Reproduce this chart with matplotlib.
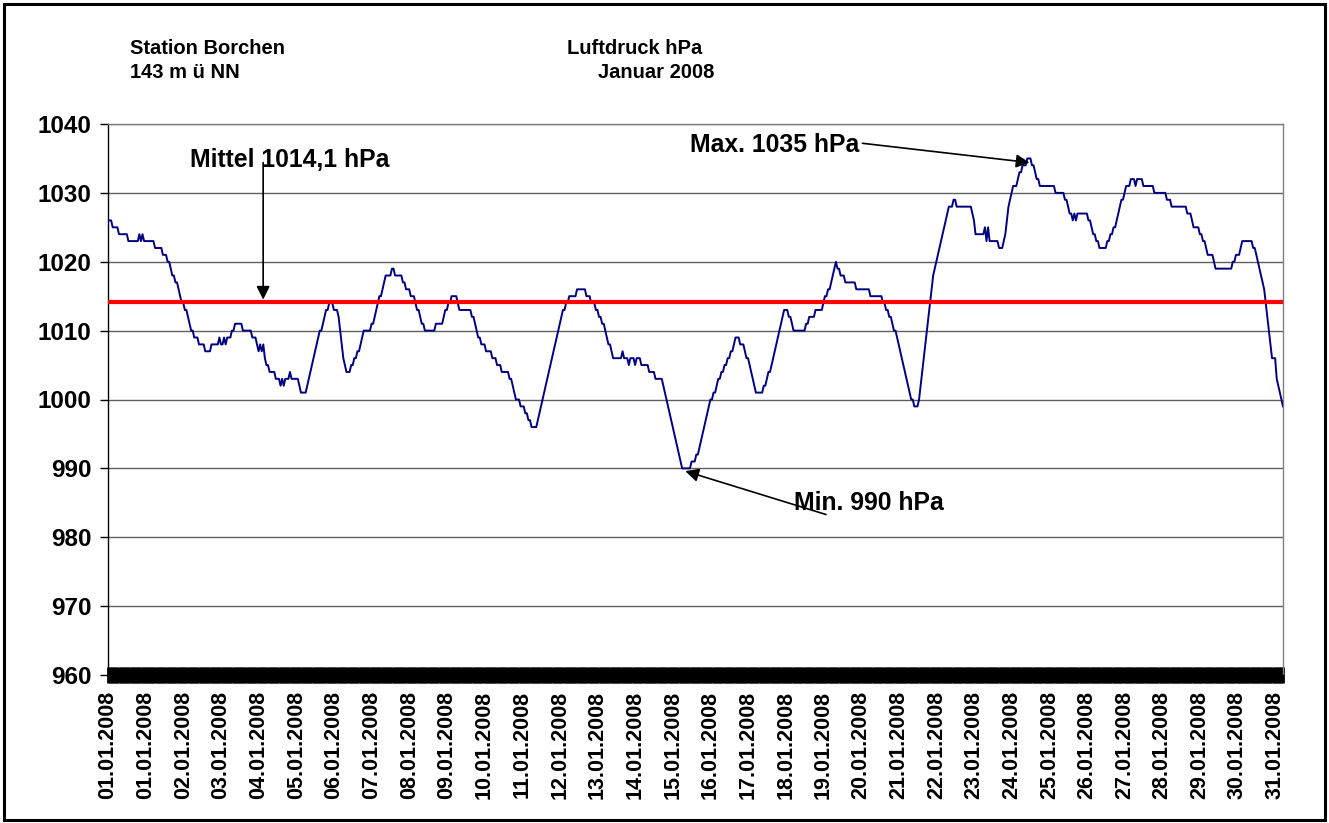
import numpy as np
import matplotlib
matplotlib.use("Agg")
import matplotlib.pyplot as plt
from matplotlib.patches import Rectangle
from matplotlib.ticker import FixedLocator

# ---- data (hourly air pressure, hPa) ----
# hour index at which the reading changes, and the new reading
change_hour = [0, 3, 7, 13, 20, 21, 22, 23, 30, 35, 38, 40, 41, 43, 45, 46, 47, 49, 51, 52,
               53, 55, 58, 62, 66, 71, 72, 74, 75, 76, 79, 81, 86, 92, 95, 96, 97, 98, 99, 100,
               101, 103, 107, 110, 111, 112, 113, 116, 117, 122, 123, 127, 128, 129, 130, 131, 132, 133, 134, 135,
               137, 138, 139, 141, 144, 147, 148, 149, 150, 151, 152, 155, 157, 159, 161, 162, 163, 168, 170, 171,
               172, 173, 175, 176, 177, 181, 183, 188, 190, 193, 196, 197, 199, 200, 202, 209, 214, 215, 217, 219,
               223, 224, 232, 234, 235, 236, 238, 241, 245, 248, 251, 256, 258, 259, 260, 263, 266, 268, 270, 274,
               275, 276, 277, 278, 279, 280, 281, 282, 283, 284, 285, 286, 287, 288, 289, 290, 292, 294, 299, 305,
               308, 311, 313, 315, 317, 318, 319, 321, 322, 328, 329, 332, 333, 336, 337, 340, 345, 349, 354, 355,
               356, 357, 358, 359, 360, 361, 362, 363, 364, 365, 366, 372, 375, 377, 378, 379, 380, 381, 382, 383,
               384, 386, 388, 389, 391, 393, 395, 397, 399, 400, 403, 406, 407, 409, 410, 411, 412, 413, 418, 420,
               421, 423, 424, 425, 426, 427, 428, 429, 430, 431, 434, 436, 437, 445, 447, 451, 456, 457, 459, 461,
               462, 463, 464, 465, 467, 470, 477, 486, 494, 496, 498, 500, 501, 503, 504, 505, 506, 507, 508, 509,
               510, 511, 512, 514, 517, 518, 519, 520, 521, 522, 523, 524, 525, 526, 527, 528, 529, 530, 531, 532,
               533, 534, 535, 536, 539, 541, 551, 552, 553, 559, 560, 561, 562, 568, 571, 572, 573, 574, 575, 576,
               577, 580, 581, 583, 586, 589, 591, 592, 594, 604, 610, 612, 613, 615, 616, 617, 618, 625, 627, 628,
               630, 632, 637, 639, 641, 643, 644, 645, 646, 648, 649, 652, 655, 656, 660, 667, 675, 678, 688, 691,
               692, 696, 698, 700, 701, 705, 706, 717, 719, 722, 723, 730, 732, 733, 734, 735, 736, 737, 738, 739,
               740, 741, 742, 745, 746, 747, 748, 749]
pressure_level = [1026, 1025, 1024, 1023, 1024, 1023, 1024, 1023, 1022, 1021, 1020, 1019, 1018, 1017, 1016, 1015, 1014, 1013, 1012, 1011,
                  1010, 1009, 1008, 1007, 1008, 1009, 1008, 1009, 1008, 1009, 1010, 1011, 1010, 1009, 1008, 1007, 1008, 1007, 1008, 1006,
                  1005, 1004, 1003, 1002, 1003, 1002, 1003, 1004, 1003, 1002, 1001, 1002, 1003, 1004, 1005, 1006, 1007, 1008, 1009, 1010,
                  1011, 1012, 1013, 1014, 1013, 1012, 1010, 1008, 1006, 1005, 1004, 1005, 1006, 1007, 1008, 1009, 1010, 1011, 1012, 1013,
                  1014, 1015, 1016, 1017, 1018, 1019, 1018, 1017, 1016, 1015, 1014, 1013, 1012, 1011, 1010, 1011, 1012, 1013, 1014, 1015,
                  1014, 1013, 1012, 1011, 1010, 1009, 1008, 1007, 1006, 1005, 1004, 1003, 1002, 1001, 1000, 999, 998, 997, 996, 997,
                  998, 999, 1000, 1001, 1002, 1003, 1004, 1005, 1006, 1007, 1008, 1009, 1010, 1011, 1012, 1013, 1014, 1015, 1016, 1015,
                  1014, 1013, 1012, 1011, 1010, 1009, 1008, 1007, 1006, 1007, 1006, 1005, 1006, 1005, 1006, 1005, 1004, 1003, 1002, 1001,
                  1000, 999, 998, 997, 996, 995, 994, 993, 992, 991, 990, 991, 992, 993, 994, 995, 996, 997, 998, 999,
                  1000, 1001, 1002, 1003, 1004, 1005, 1006, 1007, 1008, 1009, 1008, 1007, 1006, 1005, 1004, 1003, 1002, 1001, 1002, 1003,
                  1004, 1005, 1006, 1007, 1008, 1009, 1010, 1011, 1012, 1013, 1012, 1011, 1010, 1011, 1012, 1013, 1014, 1015, 1016, 1017,
                  1018, 1019, 1020, 1019, 1018, 1017, 1016, 1015, 1014, 1013, 1012, 1011, 1010, 1009, 1008, 1007, 1006, 1005, 1004, 1003,
                  1002, 1001, 1000, 999, 1000, 1002, 1004, 1006, 1008, 1010, 1012, 1014, 1016, 1018, 1019, 1020, 1021, 1022, 1023, 1024,
                  1025, 1026, 1027, 1028, 1029, 1028, 1027, 1026, 1024, 1025, 1023, 1025, 1023, 1022, 1023, 1024, 1026, 1028, 1029, 1030,
                  1031, 1032, 1033, 1034, 1035, 1034, 1033, 1032, 1031, 1030, 1029, 1028, 1027, 1026, 1027, 1026, 1027, 1026, 1025, 1024,
                  1023, 1022, 1023, 1024, 1025, 1026, 1027, 1028, 1029, 1030, 1031, 1032, 1031, 1032, 1031, 1030, 1029, 1028, 1027, 1026,
                  1025, 1024, 1023, 1022, 1021, 1020, 1019, 1020, 1021, 1022, 1023, 1022, 1021, 1020, 1019, 1018, 1017, 1016, 1014, 1012,
                  1010, 1008, 1006, 1003, 1002, 1001, 1000, 999]
n_hours = 750
mean_pressure = 1014.1

date_labels = ["01.01.2008", "01.01.2008", "02.01.2008", "03.01.2008", "04.01.2008", "05.01.2008",
               "06.01.2008", "07.01.2008", "08.01.2008", "09.01.2008", "10.01.2008", "11.01.2008",
               "12.01.2008", "13.01.2008", "14.01.2008", "15.01.2008", "16.01.2008", "17.01.2008",
               "18.01.2008", "19.01.2008", "20.01.2008", "21.01.2008", "22.01.2008", "23.01.2008",
               "24.01.2008", "25.01.2008", "26.01.2008", "27.01.2008", "28.01.2008", "29.01.2008",
               "30.01.2008", "31.01.2008"]
label_every = 24
y_ticks = [960, 970, 980, 990, 1000, 1010, 1020, 1030, 1040]

# ---- build hourly series ----
durations = np.diff(change_hour + [n_hours])
hourly = np.repeat(pressure_level, durations)
hours = np.arange(n_hours)

W, H = 1329, 823
fig = plt.figure(figsize=(W / 100, H / 100), dpi=100)
fig.patch.set_facecolor("white")

def fx(px):
    return px / W

def fy(py):
    return 1 - py / H

FONT = ["Liberation Sans", "DejaVu Sans"]

# outer border
fig.patches.append(Rectangle((fx(4), fy(820)), fx(1321), 816 / H, transform=fig.transFigure,
                             fill=False, edgecolor="black", linewidth=2.2))

ax = fig.add_axes([fx(108), fy(675), fx(1175), 551 / H])
ax.set_xlim(0, n_hours - 1)
ax.set_ylim(960, 1040)

for v in y_ticks[1:]:
    ax.axhline(v, color="#606060", lw=1.0, zorder=1)

ax.plot(hours, hourly, color="#000080", lw=1.4, zorder=3)
ax.axhline(mean_pressure, color="#FF0000", lw=3.0, zorder=4)

ax.spines["top"].set_color("#808080")
ax.spines["right"].set_color("#808080")
ax.spines["left"].set_color("black")
ax.spines["bottom"].set_color("black")
for s in ax.spines.values():
    s.set_linewidth(1.0)

ax.yaxis.set_major_locator(FixedLocator(y_ticks))
ax.set_yticklabels([str(v) for v in y_ticks], fontfamily=FONT, fontweight="bold", fontsize=17.5)
ax.tick_params(axis="y", direction="out", length=6, width=1, pad=6, colors="black")

label_pos = list(range(0, n_hours, label_every))[:len(date_labels)]
ax.xaxis.set_major_locator(FixedLocator(label_pos))
ax.xaxis.set_minor_locator(FixedLocator(list(hours)))
ax.set_xticklabels(date_labels, rotation=90, fontfamily=FONT, fontweight="bold", fontsize=15.5)
ax.tick_params(axis="x", which="both", direction="inout", length=11, width=2.0, colors="black")
ax.tick_params(axis="x", which="major", pad=6)

# titles
tt = dict(fontfamily=FONT, fontweight="bold", fontsize=14.5, va="center", ha="left")
fig.text(fx(130), fy(48), "Station Borchen", **tt)
fig.text(fx(130), fy(73), "143 m ü NN", **tt)
fig.text(fx(567), fy(48), "Luftdruck hPa", **tt)
fig.text(fx(598), fy(73), "Januar 2008", **tt)

# annotations
ann = dict(fontfamily=FONT, fontweight="bold", fontsize=17.8, va="center", ha="left")
fig.text(fx(190), fy(160), "Mittel 1014,1 hPa", **ann)
fig.text(fx(690), fy(145), "Max. 1035 hPa", **ann)
fig.text(fx(794), fy(503), "Min. 990 hPa", **ann)

arrow = dict(arrowstyle="-|>", color="black", lw=1.2, mutation_scale=20, shrinkA=0, shrinkB=0)
ax.annotate("", xy=(98.9, 1014.5), xytext=(98.9, 1034.4), arrowprops=arrow, zorder=5)
ax.annotate("", xy=(587.4, 1034.4), xytext=(480.9, 1037.2), arrowprops=arrow, zorder=5)
ax.annotate("", xy=(368.0, 989.6), xytext=(457.7, 983.3), arrowprops=arrow, zorder=5)

fig.savefig("out.png", dpi=100)
